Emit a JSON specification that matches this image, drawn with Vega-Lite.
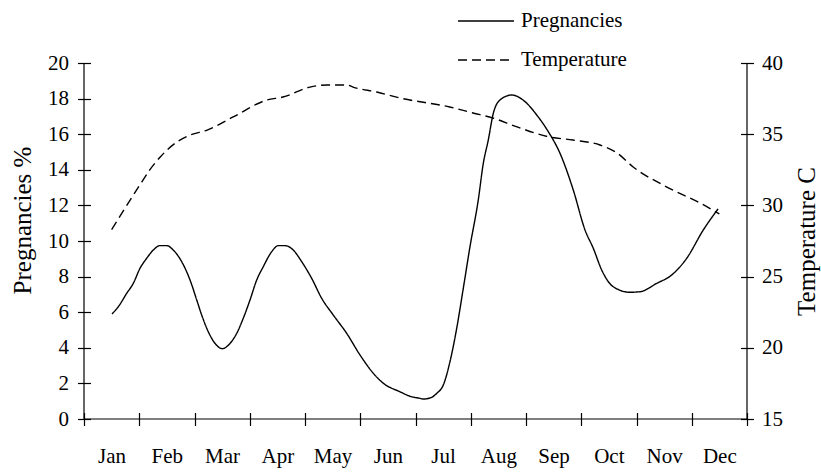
{
  "$schema": "https://vega.github.io/schema/vega-lite/v6.json",
  "width": 663,
  "height": 356,
  "autosize": "none",
  "padding": {"left": 84, "top": 63, "right": 74, "bottom": 53},
  "background": "white",
  "config": {
    "view": {"stroke": null},
    "font": "Liberation Serif",
    "axis": {"labelColor": "black", "titleColor": "black", "tickColor": "black", "tickWidth": 1.2, "grid": false, "titleFontWeight": "normal"}
  },
  "datasets": {
    "preg": [
      {"m": 0.507, "v": 5.90}, {"m": 0.621, "v": 6.31}, {"m": 0.773, "v": 7.06}, {"m": 0.892, "v": 7.62},
      {"m": 1.014, "v": 8.47}, {"m": 1.135, "v": 9.03}, {"m": 1.254, "v": 9.49}, {"m": 1.376, "v": 9.74},
      {"m": 1.497, "v": 9.74}, {"m": 1.616, "v": 9.49}, {"m": 1.768, "v": 8.84}, {"m": 1.919, "v": 7.81},
      {"m": 2.040, "v": 6.69}, {"m": 2.130, "v": 5.84}, {"m": 2.250, "v": 4.90}, {"m": 2.371, "v": 4.25},
      {"m": 2.503, "v": 3.95}, {"m": 2.643, "v": 4.25}, {"m": 2.764, "v": 4.81}, {"m": 2.883, "v": 5.66},
      {"m": 3.005, "v": 6.69}, {"m": 3.126, "v": 7.81}, {"m": 3.245, "v": 8.56}, {"m": 3.397, "v": 9.40},
      {"m": 3.517, "v": 9.74}, {"m": 3.638, "v": 9.74}, {"m": 3.788, "v": 9.49}, {"m": 3.940, "v": 8.84},
      {"m": 4.121, "v": 7.90}, {"m": 4.302, "v": 6.78}, {"m": 4.512, "v": 5.84}, {"m": 4.755, "v": 4.81},
      {"m": 4.995, "v": 3.60}, {"m": 5.236, "v": 2.57}, {"m": 5.417, "v": 2.01}, {"m": 5.719, "v": 1.53},
      {"m": 5.900, "v": 1.28}, {"m": 6.081, "v": 1.16}, {"m": 6.141, "v": 1.12}, {"m": 6.293, "v": 1.22},
      {"m": 6.384, "v": 1.44}, {"m": 6.503, "v": 1.91}, {"m": 6.624, "v": 3.22}, {"m": 6.746, "v": 5.10},
      {"m": 6.865, "v": 7.34}, {"m": 6.986, "v": 9.68}, {"m": 7.136, "v": 12.30}, {"m": 7.227, "v": 14.36},
      {"m": 7.317, "v": 15.67}, {"m": 7.408, "v": 17.17}, {"m": 7.529, "v": 17.92}, {"m": 7.741, "v": 18.20},
      {"m": 7.982, "v": 17.83}, {"m": 8.194, "v": 17.08}, {"m": 8.404, "v": 16.14}, {"m": 8.615, "v": 14.93},
      {"m": 8.856, "v": 12.86}, {"m": 9.068, "v": 10.62}, {"m": 9.218, "v": 9.59}, {"m": 9.370, "v": 8.37},
      {"m": 9.580, "v": 7.43}, {"m": 9.882, "v": 7.12}, {"m": 10.063, "v": 7.15}, {"m": 10.366, "v": 7.62},
      {"m": 10.637, "v": 8.09}, {"m": 10.909, "v": 9.03}, {"m": 11.209, "v": 10.62}, {"m": 11.475, "v": 11.80}
    ],
    "temp": [
      {"m": 0.5, "t": 28.3}, {"m": 1.01, "t": 31.43}, {"m": 1.19, "t": 32.49}, {"m": 1.38, "t": 33.40},
      {"m": 1.68, "t": 34.45}, {"m": 1.92, "t": 34.94}, {"m": 2.23, "t": 35.29}, {"m": 2.70, "t": 36.21},
      {"m": 3.31, "t": 37.40}, {"m": 3.60, "t": 37.61}, {"m": 4.09, "t": 38.31}, {"m": 4.40, "t": 38.46},
      {"m": 4.76, "t": 38.46}, {"m": 4.87, "t": 38.31}, {"m": 5.30, "t": 37.96}, {"m": 5.72, "t": 37.54},
      {"m": 6.62, "t": 36.91}, {"m": 7.04, "t": 36.49}, {"m": 7.40, "t": 36.14}, {"m": 7.84, "t": 35.51},
      {"m": 8.43, "t": 34.80}, {"m": 8.85, "t": 34.59}, {"m": 9.34, "t": 34.24}, {"m": 9.65, "t": 33.68},
      {"m": 9.94, "t": 32.70}, {"m": 10.55, "t": 31.29}, {"m": 11.15, "t": 30.17}, {"m": 11.5, "t": 29.4}
    ]
  },
  "layer": [
    {
      "layer": [
        {
          "data": {"name": "preg"},
          "mark": {"type": "line", "color": "black", "strokeWidth": 1.4, "interpolate": "monotone"},
          "encoding": {
            "x": {
              "field": "m", "type": "quantitative",
              "scale": {"domain": [0, 12], "nice": false, "zero": false},
              "axis": {
                "values": [0, 1, 2, 3, 4, 5, 6, 7, 8, 9, 10, 11, 12],
                "tickSize": 13, "offset": -6.5, "domain": false,
                "labelExpr": "datum.value < 12 ? ['Jan','Feb','Mar','Apr','May','Jun','Jul','Aug','Sep','Oct','Nov','Dec'][datum.value] : ''",
                "labelOffset": 27.6, "labelPadding": 20, "labelFlush": false, "labelOverlap": false, "labelBound": false,
                "labelFontSize": 21, "title": null
              }
            },
            "y": {
              "field": "v", "type": "quantitative",
              "scale": {"domain": [0, 20], "nice": false, "zero": false},
              "axis": {
                "values": [0, 2, 4, 6, 8, 10, 12, 14, 16, 18, 20],
                "tickSize": 13, "offset": -6.5, "domain": false,
                "labelFontSize": 21, "labelPadding": 9, "labelOverlap": false, "labelFlush": false, "labelBound": false,
                "title": "Pregnancies %", "titleFontSize": 25, "titlePadding": 12, "titleY": 157
              }
            },
            "strokeDash": {
              "datum": "Pregnancies", "type": "nominal",
              "scale": {"domain": ["Pregnancies", "Temperature"], "range": [[1, 0], [9, 5]]},
              "legend": {
                "orient": "none", "legendX": 373, "legendY": -71, "title": null,
                "symbolType": "stroke", "symbolSize": 3136, "symbolStrokeWidth": 1.4, "symbolStrokeColor": "black",
                "labelFontSize": 21, "labelColor": "black", "rowPadding": -10, "labelOffset": 6
              }
            }
          }
        },
        {
          "data": {"values": [{}]},
          "mark": {"type": "rule", "color": "black", "strokeWidth": 1.2},
          "encoding": {"y": {"datum": 0, "type": "quantitative", "axis": {"values": [0, 2, 4, 6, 8, 10, 12, 14, 16, 18, 20], "labelOverlap": false}}}
        },
        {
          "data": {"values": [{}]},
          "mark": {"type": "rule", "color": "black", "strokeWidth": 1.2},
          "encoding": {"x": {"datum": 0}}
        },
        {
          "data": {"values": [{}]},
          "mark": {"type": "rule", "color": "black", "strokeWidth": 1.2},
          "encoding": {"x": {"datum": 12}}
        }
      ]
    },
    {
      "data": {"name": "temp"},
      "mark": {"type": "line", "color": "black", "strokeWidth": 1.4, "interpolate": "monotone"},
      "encoding": {
        "x": {"field": "m", "type": "quantitative"},
        "y": {
          "field": "t", "type": "quantitative",
          "scale": {"domain": [15, 40], "nice": false, "zero": false},
          "axis": {
            "orient": "right",
            "values": [15, 20, 25, 30, 35, 40],
            "tickSize": 13, "offset": -6.5, "domain": false,
            "labelFontSize": 21, "labelPadding": 8, "labelOverlap": false, "labelFlush": false, "labelBound": false,
            "title": "Temperature C", "titleFontSize": 25, "titleAngle": 270, "titleBaseline": "top", "titlePadding": 12
          }
        },
        "strokeDash": {"datum": "Temperature", "type": "nominal"}
      }
    }
  ],
  "resolve": {"scale": {"y": "independent"}}
}
